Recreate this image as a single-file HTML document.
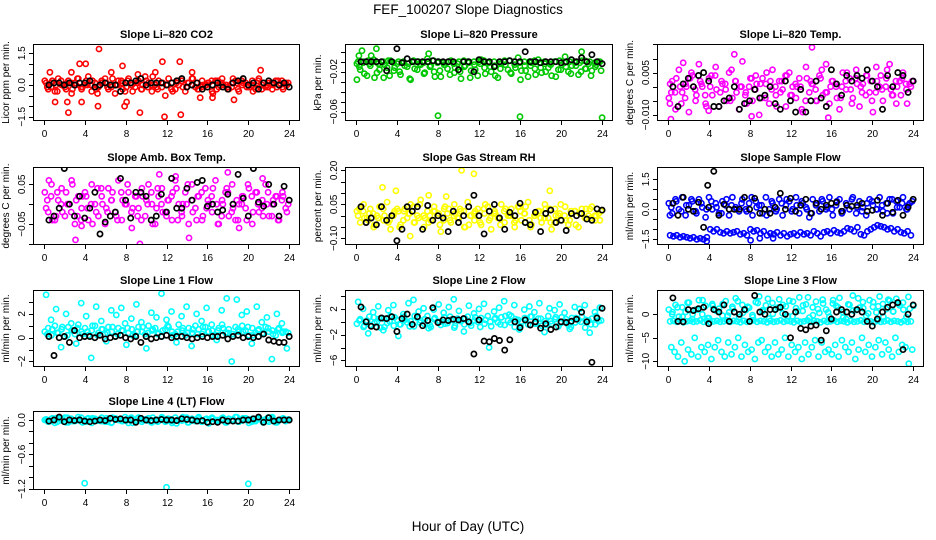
<!DOCTYPE html>
<html><head><meta charset="utf-8"><style>
html,body{margin:0;padding:0;background:#fff}
svg{display:block;font-family:"Liberation Sans",Arial,sans-serif}
</style></head><body>
<svg id="chart" width="936" height="540" viewBox="0 0 936 540" xmlns="http://www.w3.org/2000/svg">
<text x="468" y="14" text-anchor="middle" font-size="13.5">FEF_100207  Slope Diagnostics</text>
<text x="468" y="531" text-anchor="middle" font-size="13.5">Hour of Day (UTC)</text>
</svg>
<script>
var xTicks=[0,4,8,12,16,20,24];
var co2Color=[0.2,-0.2,0.1,-0.3,0.3,0.0,-0.1,0.2,-0.4,0.1,0.3,-0.2,0.0,0.4,-0.3,0.1,-0.1,0.2,0.3,-0.2,0.0,-0.4,0.2,0.1,-0.3,0.3,0.0,-0.1,0.2,-0.2,0.4,0.1,-0.3,0.0,0.2,-0.1,-0.5,0.3,0.1,-0.2,0.0,0.2,-0.3,0.1,0.3,-0.1,-0.2,0.2,0.0,0.1,-0.3,0.2,-0.1,0.3,0.0,-0.2,0.1,0.2,-0.3,0.0,0.1,-0.1,0.2,-0.2,0.3,0.0,-0.1,0.1,-0.2,0.2,0.0,-0.1,0.1];
var co2Band=[0.1,-0.1,0.0,0.2,-0.2,0.1,0.0,-0.1,0.2,0.0,-0.2,0.1,0.1,-0.1,0.0,0.2,-0.1,0.0,0.1,-0.2,0.2,0.0,-0.1,0.1,0.0,-0.2,0.1,0.2,-0.1,0.0,0.1,-0.1,0.0,0.2,-0.2,0.1,0.0,-0.1,0.1,0.2,-0.1,0.0,0.1,-0.2,0.0,0.1,-0.1,0.2,0.0];
var co2Extra=[-0.1,0.2,-0.3,0.0,0.1,-0.2,0.3,-0.1,0.0,0.2,-0.4,0.1,-0.1,0.3,0.0,-0.2,0.2,-0.3,0.1,0.0,-0.1,0.4,-0.2,0.1,0.0,-0.3,0.2,-0.1,0.1,0.3,-0.2,0.0,0.1,-0.4,0.2,0.0,-0.1,0.3,-0.2,0.1,0.0,-0.3,0.2,0.1,-0.1,0.0,0.2,-0.2,0.1];
var co2OutX=[0.6,1.1,2.4,2.7,3.5,3.7,4.1,5.4,5.3,6.6,7.7,7.9,8.1,9.4,10.9,11.6,11.8,13.3,13.4,14.5,15.3,16.5,18.6,21.2,2.3,9.2];
var co2OutY=[0.6,-0.8,-1.3,0.6,1.0,-0.8,1.0,1.7,-1.0,0.6,0.9,-1.0,-0.8,-1.3,0.6,1.1,-1.5,1.1,-1.4,0.6,-0.6,-0.6,-0.7,0.7,-0.8,0.5];
var co2Black=[0.0,0.1,0.1,0.0,0.1,0.0,0.1,0.1,0.2,-0.1,0.0,0.1,0.0,0.0,-0.3,0.1,0.1,0.2,0.3,0.0,0.1,0.1,0.1,0.0,0.1,0.2,0.3,-0.1,0.0,0.1,-0.2,-0.1,0.0,0.1,-0.1,-0.2,0.1,0.2,0.3,0.0,0.1,-0.2,0.1,0.2,0.1,0.0,0.1,-0.1];

var presColor=[-0.012,-0.018,-0.01,-0.024,-0.014,-0.008,-0.021,-0.013,-0.026,-0.016,-0.009,-0.019,-0.012,-0.023,-0.011,-0.015,-0.028,-0.01,-0.018,-0.013,-0.022,-0.007,-0.014,-0.02,-0.011,-0.025,-0.013,-0.017,-0.009,-0.021,-0.012,-0.027,-0.015,-0.01,-0.019,-0.013,-0.024,-0.008,-0.016,-0.011,-0.02,-0.014,-0.026,-0.012,-0.009,-0.018,-0.022,-0.013,-0.006,-0.019,-0.014,-0.025,-0.011,-0.017,-0.008,-0.021,-0.012,-0.016,-0.024,-0.01,-0.018,-0.013,-0.005,-0.02,-0.014,-0.011,-0.023,-0.009,-0.017,-0.012,-0.019,-0.015,-0.01];
var presBand=[-0.01,-0.011,-0.009,-0.01,-0.012,-0.01,-0.009,-0.011,-0.01,-0.01,-0.012,-0.009,-0.01,-0.011,-0.01,-0.009,-0.01,-0.011,-0.01,-0.012,-0.01,-0.009,-0.011,-0.01,-0.01,-0.009,-0.011,-0.01,-0.012,-0.01,-0.009,-0.01,-0.011,-0.01,-0.01,-0.009,-0.011,-0.01,-0.012,-0.01,-0.009,-0.011,-0.01,-0.01,-0.011,-0.009,-0.01,-0.011,-0.01];
var presExtra=[-0.015,-0.022,-0.012,-0.026,-0.018,-0.013,-0.024,-0.016,-0.02,-0.014,-0.027,-0.017,-0.012,-0.021,-0.015,-0.025,-0.019,-0.013,-0.023,-0.016,-0.02,-0.014,-0.026,-0.018,-0.012,-0.022,-0.015,-0.024,-0.017,-0.013,-0.021,-0.016,-0.028,-0.019,-0.014,-0.023,-0.016,-0.02,-0.013,-0.025,-0.018,-0.015,-0.022,-0.014,-0.02,-0.017,-0.024,-0.013,-0.019];
var presOutX=[0.3,0.6,1.5,2.0,8.0,16.0,24.0,22.0,7.1,0.1];
var presOutY=[-0.004,0.001,-0.004,0.003,-0.064,-0.065,-0.066,0.0,-0.002,-0.028];
var presBlack=[-0.01,-0.01,-0.01,-0.01,-0.01,-0.019,-0.01,0.003,-0.011,-0.007,-0.01,-0.01,-0.01,-0.01,-0.009,-0.01,-0.01,-0.01,-0.01,-0.018,-0.01,-0.01,-0.02,-0.008,-0.01,-0.01,-0.015,-0.01,-0.01,-0.009,-0.01,-0.01,0.0,-0.01,-0.01,-0.011,-0.01,-0.01,-0.01,-0.011,-0.01,-0.008,-0.01,-0.006,-0.01,-0.003,-0.01,-0.012];

var tempColor=[-0.004,0.002,-0.008,0.006,-0.002,0.001,-0.009,0.004,-0.005,0.008,0.0,-0.006,0.003,-0.003,0.007,-0.007,0.001,-0.001,0.005,-0.004,0.002,-0.008,0.009,-0.002,0.0,-0.005,0.004,-0.010,0.003,0.001,-0.006,0.006,-0.003,0.002,-0.001,-0.007,0.005,0.0,-0.004,0.003,-0.009,0.007,-0.002,0.001,-0.005,0.004,-0.003,0.008,-0.006,0.002,0.0,-0.008,0.005,-0.001,0.003,-0.004,0.006,-0.007,0.001,0.004,-0.002,-0.009,0.007,0.0,-0.005,0.003,0.008,-0.003,-0.006,0.002,0.005,-0.001,0.001];
var tempBand=[0.001,-0.002,0.0,-0.004,0.003,-0.001,0.002,-0.003,0.0,0.004,-0.002,0.001,-0.005,0.002,0.0,-0.003,0.003,-0.001,0.001,-0.004,0.002,0.0,-0.002,0.004,-0.003,0.001,0.0,-0.005,0.002,-0.001,0.003,-0.002,0.0,0.001,-0.004,0.002,-0.001,0.003,0.0,-0.003,0.002,-0.002,0.004,0.0,-0.001,0.002,-0.003,0.001,0.0];
var tempExtra=[-0.002,0.003,-0.006,0.0,0.005,-0.003,0.001,-0.007,0.004,-0.001,0.002,-0.005,0.006,-0.002,0.0,-0.006,0.003,0.001,-0.004,0.005,-0.001,-0.007,0.002,0.004,-0.003,0.0,-0.008,0.003,0.001,-0.005,0.006,-0.002,0.002,-0.004,0.0,0.005,-0.006,0.001,-0.002,0.004,-0.005,0.002,-0.001,0.006,-0.003,0.0,0.003,-0.006,0.002];
var tempOutX=[0.3,1.5,6.5,14.1,15.7,0.2,8.2,4.0];
var tempOutY=[-0.0115,0.0085,0.0115,0.014,-0.011,-0.006,-0.0105,-0.0085];
var tempBlack=[0.0,-0.007,0.001,0.003,0.0,0.004,0.005,0.002,-0.007,-0.007,-0.005,-0.004,0.0,-0.008,-0.006,-0.005,-0.001,-0.004,-0.003,0.0,-0.006,-0.008,0.002,-0.005,-0.009,-0.001,-0.009,-0.005,0.002,-0.004,-0.007,0.006,0.001,-0.003,0.004,0.002,0.004,0.003,0.006,0.002,0.0,-0.008,0.004,0.0,0.005,0.004,-0.002,0.002];

var ambColor=[0.03,-0.02,0.05,-0.04,0.01,0.04,-0.03,0.0,0.06,-0.05,0.02,-0.01,0.03,-0.04,0.05,0.0,-0.03,0.02,-0.05,0.04,0.01,-0.02,0.06,-0.04,0.0,0.03,-0.06,0.02,-0.01,0.04,-0.03,0.05,0.0,-0.05,0.02,0.04,-0.02,0.01,-0.04,0.06,0.0,-0.03,0.03,-0.05,0.05,-0.01,0.02,-0.04,0.04,0.0,-0.02,0.06,-0.05,0.01,0.03,-0.03,0.05,-0.04,0.0,0.02,-0.01,0.04,-0.05,0.03,-0.02,0.01,0.05,-0.03,0.0,0.02,-0.04,0.03,-0.01];
var ambBand=[-0.01,0.02,-0.03,0.0,0.03,-0.02,0.01,-0.04,0.02,0.0,-0.02,0.04,-0.01,0.01,-0.03,0.03,0.0,-0.02,0.02,-0.04,0.01,0.03,-0.01,0.0,-0.03,0.02,0.04,-0.02,0.0,0.01,-0.04,0.03,-0.01,0.02,0.0,-0.03,0.04,-0.02,0.01,0.0,-0.04,0.02,0.03,-0.01,0.0,-0.03,0.02,0.01,-0.02];
var ambExtra=[0.01,-0.04,0.03,-0.02,0.0,0.05,-0.03,0.02,-0.01,-0.05,0.04,0.0,-0.02,0.03,-0.04,0.01,0.05,-0.01,-0.03,0.02,0.0,-0.05,0.04,-0.02,0.01,0.03,-0.04,0.0,0.05,-0.02,0.02,-0.03,0.01,0.04,-0.05,0.0,0.03,-0.01,-0.04,0.02,0.05,-0.02,0.0,-0.03,0.03,0.01,-0.04,0.02,0.0];
var ambOutX=[0.5,3.1,9.4,9.5,10.3,14.2,18.0,11.3,12.9,21.4,3.7,19.1];
var ambOutY=[0.06,-0.09,-0.1,-0.12,-0.11,-0.085,0.08,0.075,0.07,0.065,-0.055,-0.06];
var ambBlack=[-0.04,-0.03,-0.01,0.09,0.0,-0.03,0.02,-0.035,-0.01,0.03,-0.075,-0.045,-0.03,-0.02,0.065,0.01,-0.035,0.03,0.03,0.02,-0.04,-0.03,0.025,-0.02,0.065,-0.01,-0.01,0.04,0.01,0.055,0.06,-0.005,0.0,-0.02,-0.015,0.025,0.0,0.075,0.015,-0.03,0.09,0.005,-0.005,0.05,0.0,-0.03,0.045,0.01];

var rhColor=[0.02,-0.03,0.05,-0.01,0.03,-0.05,0.0,0.04,-0.02,0.06,-0.06,0.01,0.03,-0.04,0.02,-0.01,0.05,-0.03,0.0,0.07,-0.05,0.02,-0.02,0.04,0.0,-0.07,0.03,0.01,-0.03,0.05,-0.01,0.02,-0.05,0.06,0.0,-0.02,0.03,-0.04,0.01,0.04,-0.06,0.02,-0.01,0.05,-0.03,0.0,0.03,-0.05,0.04,-0.02,0.01,0.06,-0.04,0.0,0.02,-0.03,0.05,-0.01,-0.06,0.03,0.0,-0.02,0.04,-0.04,0.01,0.02,-0.05,0.03,-0.01,0.0,0.04,-0.02,0.01];
var rhBand=[0.0,0.02,-0.02,0.01,-0.01,0.03,-0.03,0.0,0.02,-0.02,0.01,0.04,-0.01,0.0,-0.03,0.02,0.01,-0.02,0.03,0.0,-0.01,0.02,-0.04,0.01,0.0,0.03,-0.02,0.01,-0.01,0.02,0.0,-0.03,0.04,0.01,-0.02,0.0,0.02,-0.01,0.03,-0.03,0.01,0.0,-0.02,0.02,0.01,-0.01,0.03,0.0,-0.02];
var rhExtra=[0.03,-0.01,0.01,-0.04,0.04,0.0,-0.02,0.02,-0.05,0.03,0.01,-0.03,0.05,-0.01,0.0,0.02,-0.04,0.04,-0.02,0.01,0.03,-0.05,0.0,0.02,-0.03,0.05,-0.01,0.01,-0.04,0.03,0.0,-0.02,0.02,0.04,-0.05,0.01,-0.01,0.03,-0.03,0.0,0.05,-0.02,0.02,-0.04,0.01,0.03,-0.01,0.0,0.02];
var rhOutX=[2.6,3.9,10.3,11.5,7.1,5.3,18.9,8.8];
var rhOutY=[0.125,0.11,0.2,0.185,0.09,-0.09,0.11,0.085];
var rhBlack=[0.04,-0.03,-0.01,-0.04,0.04,-0.02,0.0,-0.11,-0.06,0.04,0.02,0.04,-0.06,0.045,-0.02,0.0,-0.01,-0.07,0.02,-0.03,0.0,0.04,0.09,0.0,-0.08,0.02,0.05,-0.01,-0.06,0.015,0.0,0.055,-0.03,-0.04,0.015,-0.07,0.01,0.025,-0.03,-0.02,-0.065,0.01,0.0,0.01,-0.015,-0.02,0.03,0.025];

var sampColor=[0.3,-0.2,0.5,0.0,0.6,-0.3,0.2,0.4,-0.1,0.5,0.1,-0.4,0.6,0.0,0.3,-0.2,0.4,0.2,-0.3,0.6,0.1,-0.1,0.5,0.0,0.3,-0.3,0.4,0.2,-0.2,0.6,0.0,0.3,-0.1,0.5,-0.3,0.2,0.4,0.0,0.6,-0.2,0.3,0.1,-0.4,0.5,0.2,-0.1,0.4,0.0,0.6,-0.3,0.2,0.5,-0.1,0.3,0.0,0.6,-0.2,0.4,0.1,-0.3,0.5,0.2,0.0,0.6,-0.1,0.3,0.5,-0.2,0.4,0.1,0.6,0.0,0.3];
var sampBand=[-1.3,-1.35,-1.3,-1.4,-1.35,-1.4,-1.45,-1.4,-1.5,-1.45,-1.5,-1.4,-1.0,-1.1,-1.0,-1.15,-1.2,-1.1,-1.2,-1.15,-1.1,-1.25,-1.2,-1.3,-1.0,-1.1,-1.05,-1.2,-1.1,-1.3,-1.2,-1.25,-1.15,-1.3,-1.2,-1.35,-1.25,-1.2,-1.3,-1.15,-1.25,-1.2,-1.3,-1.1,-1.2,-1.35,-1.15,-1.1,-1.2,-1.05,-1.15,-1.2,-1.1,-0.95,-1.0,-1.1,-0.9,-1.25,-1.3,-1.1,-1.0,-0.9,-0.8,-0.85,-0.9,-1.0,-0.95,-1.1,-1.0,-1.15,-1.2,-1.1,-1.3];
var sampExtra=[0.1,0.4,-0.1,0.2,0.5,-0.2,0.3,0.0,0.4,0.1,-0.2,0.5,0.2,0.0,0.3,-0.1,0.6,0.1,0.2,-0.3,0.4,0.0,0.3,0.5,-0.1,0.2,0.4,0.0,-0.2,0.3,0.5,0.1,0.0,0.4,-0.2,0.2,0.5,0.1,-0.1,0.3,0.4,0.0,0.2,-0.2,0.5,0.1,0.3,0.0,0.4];
var sampOutX=[3.8,8.1,9.0,10.3,0.2,23.5];
var sampOutY=[-1.6,-1.55,-1.45,-1.45,-0.3,0.2];
var sampBlack=[0.3,-0.3,0.6,0.0,-0.1,0.35,-0.9,0.1,1.9,-0.3,0.25,0.0,0.0,0.0,0.6,0.0,0.55,-0.2,0.0,-0.2,0.1,0.8,0.0,0.55,-0.1,0.2,0.5,-0.2,0.3,0.0,0.2,0.3,0.35,-0.1,0.2,0.15,0.2,0.3,-0.1,-0.05,0.45,-0.3,0.3,-0.15,0.45,-0.3,0.1,0.5];
var sampBlackOutX=[3.9];
var sampBlackOutY=[1.2];

var l1Color=[0.5,0.8,0.2,1.0,0.4,0.7,0.1,0.9,0.6,0.3,1.1,0.5,0.8,0.2,0.6,1.0,0.4,0.7,0.3,0.9,0.5,0.1,0.8,0.6,1.2,0.4,0.7,0.2,0.9,0.5,0.3,1.0,0.6,0.8,0.4,0.1,0.7,0.9,0.5,0.3,1.1,0.6,0.2,0.8,0.4,1.0,0.7,0.3,0.9,0.5,0.6,0.2,0.8,1.1,0.4,0.7,0.3,0.9,0.5,1.0,0.6,0.2,0.8,0.4,0.7,0.3,0.9,0.5,0.6,0.2,0.8,0.4,0.5];
var l1Scatter=[3.6,1.5,2.4,-0.8,2.0,1.2,-0.5,2.9,1.8,-1.7,2.6,1.4,-0.3,2.3,1.9,2.5,-0.6,1.6,2.8,1.3,-0.9,2.1,1.7,3.7,1.5,2.2,-0.4,1.8,2.6,-0.7,2.0,1.4,2.5,1.1,-0.2,2.3,3.3,-2.0,3.2,1.9,2.2,-0.5,2.6,1.3,1.7,-1.8,2.0,1.2,-0.9];
var l1Extra=[0.3,0.7,0.4,0.9,0.2,0.6,0.8,0.3,0.5,1.0,0.2,0.7,0.4,0.9,0.3,0.6,0.8,0.2,0.5,0.9,0.4,0.7,0.3,0.6,1.0,0.2,0.5,0.8,0.4,0.7,0.3,0.9,0.5,0.2,0.6,0.8,0.4,0.3,0.7,0.5,0.9,0.2,0.6,0.4,0.8,0.3,0.7,0.5,0.4];
var l1Black=[0.1,-1.5,0.0,0.1,-0.4,0.6,0.0,0.1,0.1,0.0,0.2,-0.1,0.0,0.1,0.2,0.0,-0.1,0.1,-0.4,0.1,-0.1,0.0,0.1,0.2,0.0,0.1,0.1,0.0,-0.1,0.0,0.1,0.0,0.1,0.1,0.2,-0.1,0.1,0.2,0.0,0.1,0.0,0.1,0.3,-0.2,-0.3,-0.4,-0.4,0.1];

var l2Color=[-0.3,0.4,-0.8,0.2,-0.5,0.7,0.0,-0.9,0.5,-0.2,0.9,-0.6,0.3,-0.4,0.8,-0.1,0.1,-0.7,0.6,0.2,-0.3,0.9,-0.8,0.4,0.0,-0.5,0.7,-0.2,0.3,-0.9,0.5,0.1,-0.4,0.8,-0.6,0.2,0.0,0.6,-0.3,0.9,-0.7,0.4,-0.1,0.7,-0.5,0.2,0.9,-0.8,0.3,0.0,0.6,-0.4,0.8,-0.2,0.5,-0.6,0.1,0.9,-0.3,0.4,-0.7,0.7,0.0,-0.5,0.6,-0.1,0.3,0.8,-0.9,0.2,0.5,-0.4,0.1];
var l2Scatter=[3.1,2.0,-1.8,1.5,2.4,-1.3,1.8,2.6,-2.2,1.2,2.9,3.4,1.6,2.1,-1.0,1.9,2.7,1.4,2.3,3.5,1.7,-1.5,2.5,1.3,2.0,2.8,-4.0,1.6,2.2,3.2,1.1,2.6,-1.2,1.9,2.4,1.5,2.9,-1.6,2.1,1.8,2.7,1.4,-1.1,2.3,2.0,2.6,-1.7,1.5,2.2];
var l2Extra=[0.2,-0.6,0.8,-0.2,0.5,-0.8,0.1,0.7,-0.4,0.3,-0.7,0.9,-0.1,0.4,-0.5,0.6,0.0,-0.3,0.8,-0.6,0.2,0.5,-0.2,0.7,-0.8,0.3,0.0,0.6,-0.4,0.9,-0.1,0.4,-0.7,0.2,0.8,-0.3,0.5,-0.5,0.1,0.7,-0.2,0.4,-0.8,0.6,0.0,0.3,-0.4,0.9,0.2];
var l2Black=[2.3,0.0,-0.7,-0.8,0.6,0.5,0.8,-1.5,0.5,1.2,-0.4,0.8,-0.6,0.2,2.2,-0.1,0.3,0.2,0.4,0.3,0.5,0.0,-5.0,0.3,-3.0,-3.1,-2.6,-2.9,-4.4,-2.8,0.0,-0.9,0.3,-0.5,0.0,-1.0,-0.3,-1.2,-0.8,0.0,-0.1,0.1,0.4,1.5,0.0,-6.3,0.6,2.1];

var l3Upper=[1.0,0.0,2.0,-0.5,1.5,0.5,2.5,-1.0,1.0,3.0,0.0,1.8,-0.8,2.2,0.8,1.2,-0.3,2.8,0.4,1.6,3.4,-0.6,2.0,0.9,1.4,-0.2,2.6,3.8,0.6,1.9,-0.9,2.4,1.1,3.2,0.2,1.7,2.9,-0.4,1.3,3.6,0.7,2.1,-0.7,1.5,2.7,0.3,3.1,1.0,-0.5,2.3,1.8,3.5,0.5,-1.0,2.0,4.0,0.9,1.4,2.6,-0.3,3.0,1.6,0.4,3.8,2.2,1.1,2.9,0.6,3.3,1.9,2.5,-0.6,1.2];
var l3Mid=[-1.5,-1.4,-1.6,-1.3,-1.7,-1.5,-1.4,-1.6,-1.5,-1.3,-1.6,-1.4,-1.7,-1.5,-1.4,-1.6,-1.5,-1.3,-1.6,-1.4,-1.5,-1.7,-1.4,-1.6,-1.5,-1.3,-1.6,-1.4,-1.5,-1.7,-1.4,-1.6,-1.5,-1.3,-1.6,-1.4,-1.5,-1.7,-1.4,-1.6,-1.5,-1.3,-1.6,-1.4,-1.5,-1.7,-1.4,-1.6,-1.5,-1.3,-1.6,-1.4,-1.5,-1.7,-1.4,-1.6,-1.5,-1.3,-1.6,-1.4,-1.5,-1.7,-1.4,-1.6,-1.5,-1.3,-1.6,-1.4,-1.5,-1.7,-1.4,-1.6,-1.5];
var l3Lower=[-7,-8,-9,-6,-10,-7.5,-8.5,-5,-9,-7,-8,-6.5,-9.5,-7,-5.5,-8,-9,-6,-8.5,-7,-5,-9,-6.5,-8,-7.5,-9.5,-6,-5.5,-8,-7,-9,-6,-8.5,-7.5,-5,-9,-6.5,-8,-7,-9.5,-6,-8.5,-7,-5.5,-9,-6,-8,-7.5,-8.5,-6.5,-9,-5.5,-7,-8,-6,-9.5,-7.5,-5,-8,-6.5,-9,-7,-5.5,-8.5,-6,-7.5,-9,-5,-8,-6.5,-7,-10.5,-7.5];
var l3Extra=[0.5,1.5,-0.5,2.5,0.0,1.0,3.0,-0.8,1.8,0.6,2.2,-0.3,1.2,2.8,0.3,1.6,-0.6,2.4,0.9,3.3,0.1,1.4,2.0,-0.4,2.7,0.7,1.9,3.6,-0.2,1.1,2.3,0.4,3.0,1.5,-0.7,2.1,0.8,3.4,1.3,0.2,2.6,1.7,-0.5,3.1,0.6,2.2,1.0,3.7,1.8];
var l3Black=[3.5,-1.5,-1.6,1.0,0.8,1.2,1.5,-2.0,1.0,0.5,2.0,-1.5,0.5,0.0,1.0,-1.5,4.0,0.5,0.0,1.0,1.0,1.5,0.0,-5.0,0.5,-3.0,-3.3,-2.5,-2.3,-5.5,-3.5,-1.0,0.5,1.0,0.5,0.0,1.0,0.5,-1.5,-2.5,-1.0,0.5,1.5,2.0,2.5,-7.5,0.0,2.0];

var l4Color=[0.0,-0.03,0.02,-0.05,0.03,-0.01,0.04,-0.04,0.01,-0.02,0.05,-0.03,0.0,0.03,-0.05,0.02,-0.01,0.04,-0.03,0.01,-0.04,0.03,0.0,-0.02,0.05,-0.05,0.02,-0.01,0.04,-0.03,0.01,0.03,-0.04,0.0,-0.02,0.05,-0.03,0.02,-0.05,0.04,0.0,-0.01,0.03,-0.04,0.02,-0.02,0.05,-0.03,0.01,-0.06,0.04,0.0,-0.02,0.03,-0.04,0.02,-0.01,0.05,-0.03,0.0,0.03,-0.05,0.02,-0.02,0.04,-0.01,0.01,-0.03,0.05,-0.04,0.0,0.02,-0.02];
var l4Band=[0.01,-0.02,0.03,0.0,-0.04,0.02,-0.01,0.04,-0.03,0.01,0.0,-0.02,0.03,-0.05,0.02,0.0,-0.01,0.04,-0.03,0.02,0.01,-0.04,0.0,0.03,-0.02,0.01,-0.06,0.02,0.04,-0.01,0.0,-0.03,0.02,0.03,-0.02,0.01,-0.04,0.0,0.05,-0.01,0.02,-0.03,0.01,0.0,-0.02,0.03,-0.04,0.01,0.0];
var l4Extra=[-0.01,0.03,-0.03,0.01,0.04,-0.02,0.0,-0.04,0.02,0.03,-0.01,0.0,-0.03,0.04,0.01,-0.02,0.02,-0.05,0.03,0.0,-0.01,0.04,-0.03,0.01,0.02,-0.02,0.0,0.05,-0.04,0.01,0.03,-0.01,-0.03,0.02,0.0,0.04,-0.02,0.01,-0.03,0.03,0.0,-0.01,0.02,-0.04,0.04,0.0,-0.02,0.03,0.01];
var l4OutX=[4.0,12.0,20.0];
var l4OutY=[-1.1,-1.17,-1.11];
var l4Black=[-0.02,0.0,0.05,-0.03,0.0,-0.01,0.0,-0.02,-0.03,-0.02,0.0,-0.01,0.03,0.01,0.02,0.0,0.0,-0.04,0.03,0.0,-0.01,0.0,0.01,0.0,0.0,-0.01,0.02,0.01,0.0,-0.02,-0.01,-0.04,-0.03,-0.04,0.0,-0.02,-0.02,-0.02,0.0,0.0,0.02,0.05,-0.04,0.04,-0.02,0.0,0.0,0.0];

var NS='http://www.w3.org/2000/svg';
var svg=document.getElementById('chart');
function mk(tag,attrs,parent){var e=document.createElementNS(NS,tag);for(var k in attrs)e.setAttribute(k,attrs[k]);(parent||svg).appendChild(e);return e;}
var cols=[{l:34,r:299},{l:346,r:612},{l:658,r:923}];
var rows=[{t:45,b:120},{t:168,b:244},{t:291,b:366},{t:412,b:489}];
var panels=[
 {slug:'co2',title:'Slope Li\u2013820 CO2',yl:'Licor ppm per min.',c:0,r:0,top:1.887,bot:-1.651,ticks:[-1.5,-1,-0.5,0,0.5,1,1.5],labs:[-1.5,0,1.5],dec:1,color:'#ff0000',series:[co2Color,co2Band,co2Extra],ox:co2OutX,oy:co2OutY,black:co2Black},
 {slug:'pressure',title:'Slope Li\u2013820 Pressure',yl:'kPa per min.',c:1,r:0,top:0.0067,bot:-0.0683,ticks:[0,-0.01,-0.02,-0.03,-0.04,-0.05,-0.06],labs:[-0.02,-0.06],dec:2,color:'#00c800',series:[presColor,presBand,presExtra],ox:presOutX,oy:presOutY,black:presBlack},
 {slug:'li820-temp',title:'Slope Li\u2013820 Temp.',yl:'degrees C per min.',c:2,r:0,top:0.0148,bot:-0.0118,ticks:[0.015,0.01,0.005,0,-0.005,-0.01],labs:[0.005,-0.01],dec:3,color:'#ff00ff',series:[tempColor,tempBand,tempExtra],ox:tempOutX,oy:tempOutY,black:tempBlack},
 {slug:'amb-box-temp',title:'Slope Amb. Box Temp.',yl:'degrees C per min.',c:0,r:1,top:0.0912,bot:-0.1003,ticks:[0.05,0,-0.05,-0.1],labs:[0.05,-0.05],dec:2,color:'#ff00ff',series:[ambColor,ambBand,ambExtra],ox:ambOutX,oy:ambOutY,black:ambBlack},
 {slug:'gas-stream-rh',title:'Slope Gas Stream RH',yl:'percent per min.',c:1,r:1,top:0.2106,bot:-0.1247,ticks:[0.2,0.15,0.1,0.05,0,-0.05,-0.1],labs:[0.2,0.05,-0.1],dec:2,color:'#ffff00',series:[rhColor,rhBand,rhExtra],ox:rhOutX,oy:rhOutY,black:rhBlack},
 {slug:'sample-flow',title:'Slope Sample Flow',yl:'ml/min per min.',c:2,r:1,top:2.065,bot:-1.735,ticks:[1.5,1,0.5,0,-0.5,-1,-1.5],labs:[1.5,0,-1.5],dec:1,color:'#0000ff',series:[sampColor,sampBand,sampExtra],ox:sampOutX,oy:sampOutY,black:sampBlack,box:sampBlackOutX,boy:sampBlackOutY},
 {slug:'line1-flow',title:'Slope Line 1 Flow',yl:'ml/min per min.',c:0,r:2,top:3.92,bot:-2.38,ticks:[3,2,1,0,-1,-2],labs:[2,0,-2],dec:0,color:'#00ffff',series:[l1Color,l1Scatter,l1Extra],ox:[],oy:[],black:l1Black},
 {slug:'line2-flow',title:'Slope Line 2 Flow',yl:'ml/min per min.',c:1,r:2,top:4.79,bot:-6.87,ticks:[4,2,0,-2,-4,-6],labs:[2,-2,-6],dec:0,color:'#00ffff',series:[l2Color,l2Scatter,l2Extra],ox:[],oy:[],black:l2Black},
 {slug:'line3-flow',title:'Slope Line 3 Flow',yl:'ml/min per min.',c:2,r:2,top:4.96,bot:-11.0,ticks:[0,-5,-10],labs:[0,-5,-10],dec:0,color:'#00ffff',series:[l3Upper,l3Mid,l3Lower,l3Extra],ox:[],oy:[],black:l3Black},
 {slug:'line4-flow',title:'Slope Line 4 (LT) Flow',yl:'ml/min per min.',c:0,r:3,top:0.139,bot:-1.2,ticks:[0,-0.2,-0.4,-0.6,-0.8,-1,-1.2],labs:[0,-0.6,-1.2],dec:1,color:'#00ffff',series:[l4Color,l4Band,l4Extra],ox:l4OutX,oy:l4OutY,black:l4Black}
];
function fmt(v,d){var s=Math.abs(v).toFixed(d);return (v<-1e-12?'\u2212':'')+s;}
function pt(g,x,y,col,name,sw){
 var c=mk('circle',{cx:x.toFixed(1),cy:y.toFixed(1),r:2.6,fill:'none',stroke:col,'stroke-width':sw},g);
 
 
}
panels.forEach(function(p){
 var L=cols[p.c].l,R=cols[p.c].r,T=rows[p.r].t,B=rows[p.r].b;
 var w=R-L,pad=w/1.08*0.04;
 var xs=function(v){return L+pad+(v/24)*(w-2*pad);};
 var ys=function(v){return T+(p.top-v)/(p.top-p.bot)*(B-T);};
 var g=mk('g',{});
 
 
 var t=mk('text',{x:(L+R)/2,y:T-7,'text-anchor':'middle','font-size':11,'font-weight':'bold'},g);t.textContent=p.title;
 
 
 var cy=(T+B)/2;
 var yl=mk('text',{x:L-25,y:cy,'text-anchor':'middle','font-size':10,transform:'rotate(-90 '+(L-25)+' '+cy+')'},g);yl.textContent=p.yl;
 
 
 var ax=mk('g',{stroke:'#000','stroke-width':1},g);
 
 
 mk('line',{x1:xs(0),x2:xs(24),y1:B+0.5,y2:B+0.5},ax);
 mk('line',{x1:L-0.5,x2:L-0.5,y1:ys(p.ticks[0]),y2:ys(p.ticks[p.ticks.length-1])},ax);
 xTicks.forEach(function(v){
  var x=Math.round(xs(v))+0.5;
  mk('line',{x1:x,x2:x,y1:B,y2:B+5},ax);
  var tx=mk('text',{x:x,y:B+17,'text-anchor':'middle','font-size':10,stroke:'none'},g);tx.textContent=v;
  
  
 });
 p.ticks.forEach(function(v){
  var y=Math.round(ys(v))+0.5;
  mk('line',{x1:L-5,x2:L,y1:y,y2:y},ax);
 });
 p.labs.forEach(function(v){
  var y=ys(v),x=L-9;
  var tl=mk('text',{x:x,y:y,'text-anchor':'middle','font-size':10,transform:'rotate(-90 '+x+' '+y+')'},g);tl.textContent=fmt(v,p.dec);
  
  
 });
 var clip='clip-'+p.slug;
 var cp=mk('clipPath',{id:clip},svg);mk('rect',{x:L,y:T,width:w,height:B-T},cp);
 var pg=mk('g',{'clip-path':'url(#'+clip+')'},g);
 
 
 p.series.forEach(function(arr,si){
  var n=arr.length,off=0.1+si*0.12;
  arr.forEach(function(v,i){pt(pg,xs(off+i*(23.8-0.24)/(n-1)),ys(v),p.color,p.slug+'-point',1.6);});
 });
 p.ox.forEach(function(x,i){pt(pg,xs(x),ys(p.oy[i]),p.color,p.slug+'-outlier',1.6);});
 var nb=p.black.length;
 p.black.forEach(function(v,i){pt(pg,xs(0.5+i*23.5/(nb-1)),ys(v),'#000',p.slug+'-reference-point',1.7);});
 if(p.box)p.box.forEach(function(x,i){pt(pg,xs(x),ys(p.boy[i]),'#000',p.slug+'-reference-outlier',1.7);});
 mk('rect',{x:L-0.5,y:T-0.5,width:w+1,height:B-T+1,fill:'none',stroke:'#000','stroke-width':1},g);
});
</script>
</body></html>
